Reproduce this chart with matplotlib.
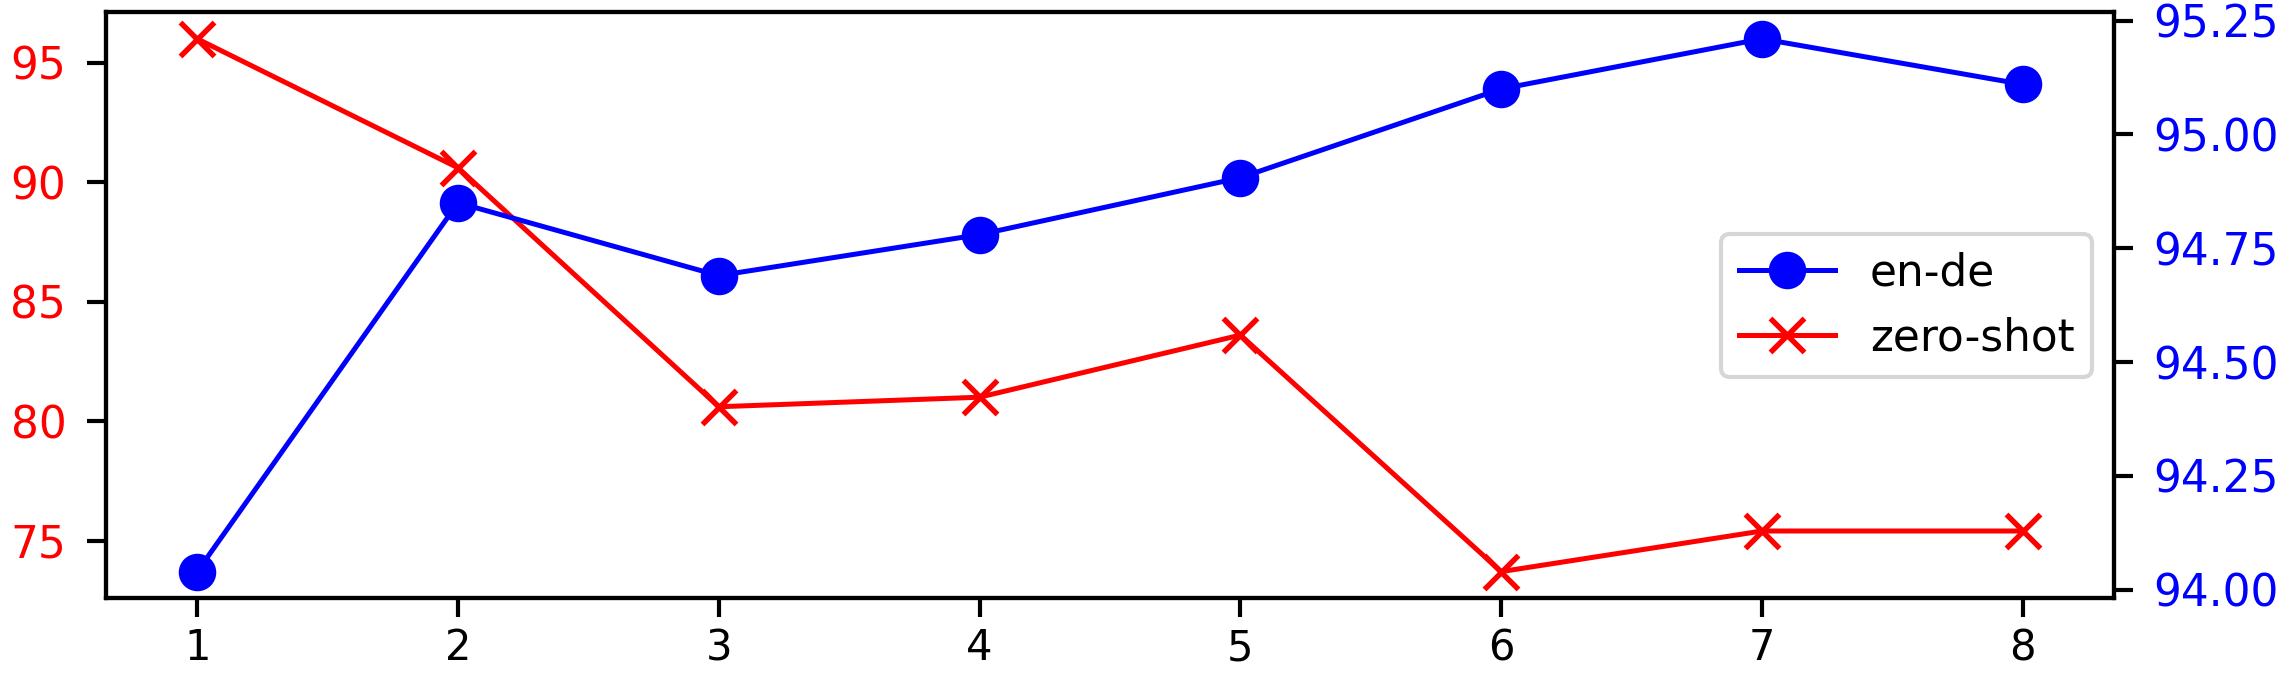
import matplotlib
matplotlib.use("Agg")
import matplotlib.pyplot as plt
from matplotlib.ticker import MultipleLocator, FormatStrFormatter

steps = [1, 2, 3, 4, 5, 6, 7, 8]
en_de = [94.04, 94.85, 94.69, 94.78, 94.905, 95.10, 95.21, 95.11]
zero_shot = [96.0, 90.6, 80.6, 81.0, 83.6, 73.7, 75.4, 75.4]

plt.rcParams["font.size"] = 10.5
plt.rcParams["axes.linewidth"] = 1.0

fig, ax = plt.subplots(figsize=(2283 / 300, 676 / 300), dpi=300)
fig.subplots_adjust(left=0.0464, right=0.926, top=0.982, bottom=0.115)

ax2 = ax.twinx()
l1 = ax2.plot(steps, en_de, color="blue", marker="o", markersize=8, linewidth=1.2, label="en-de")
l2 = ax.plot(steps, zero_shot, color="red", marker="x", markersize=8, markeredgewidth=1.3,
             linewidth=1.2, label="zero-shot")

ax.tick_params(axis="y", colors="black", labelcolor="red", length=4.5, width=1.0, pad=5)
ax.tick_params(axis="x", length=4.5, width=1.0, pad=2.5, labelsize=10)
ax2.tick_params(axis="y", colors="black", labelcolor="blue", length=4.5, width=1.0, pad=5)
ax.set_xticks(steps)
ax2.yaxis.set_major_locator(MultipleLocator(0.25))
ax2.yaxis.set_major_formatter(FormatStrFormatter("%.2f"))

lines = l1 + l2
ax2.legend(lines, [l.get_label() for l in lines], loc="center right", handlelength=2.2)

fig.savefig("out.png", dpi=300)
